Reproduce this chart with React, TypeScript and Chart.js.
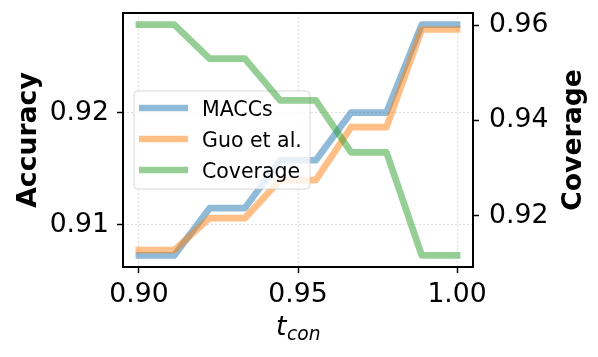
import React, { useEffect, useRef } from "react";
import { Chart, registerables } from "chart.js";

Chart.register(...registerables);

// ---- data ----
const tCon = [0.9, 0.9111, 0.9222, 0.9333, 0.9444, 0.9556, 0.9667, 0.9778, 0.9889, 1.0];
const maccsAcc = [0.90726, 0.90726, 0.91148, 0.91148, 0.91575, 0.91575, 0.92, 0.92, 0.92785, 0.92785];
const guoAcc = [0.90773, 0.90773, 0.91059, 0.91059, 0.91398, 0.91398, 0.9187, 0.9187, 0.92741, 0.92741];
const coverage = [0.9602, 0.9602, 0.95302, 0.95302, 0.94423, 0.94423, 0.9333, 0.9333, 0.91162, 0.91162];
const seriesLabels = ["MACCs", "Guo et al.", "Coverage"];
const xTicks = [0.9, 0.95, 1.0];
const accTicks = [0.91, 0.92];
const covTicks = [0.92, 0.94, 0.96];

const FONT = '"DejaVu Sans", "Liberation Sans", sans-serif';
const COLORS = ["rgba(31,119,180,0.5)", "rgba(255,127,14,0.5)", "rgba(44,160,44,0.5)"];
const LW = 6.7;

function padRange(vals: number[], frac = 0.05) {
  const lo = Math.min(...vals);
  const hi = Math.max(...vals);
  const m = (hi - lo) * frac;
  return { min: lo - m, max: hi + m };
}

const overlayPlugin = {
  id: "overlay",
  beforeDatasetDraw(chart: any, args: any) {
    if (args.index !== 2) return;
    // legend (belongs to the accuracy axes, drawn under the coverage line)
    const ctx = chart.ctx as CanvasRenderingContext2D;
    const ca = chart.chartArea;
    const bx = ca.left + 11;
    const by = ca.top + 78;
    const bw = 176;
    const bh = 98;
    ctx.save();
    ctx.beginPath();
    const r = 4;
    ctx.moveTo(bx + r, by);
    ctx.lineTo(bx + bw - r, by);
    ctx.arcTo(bx + bw, by, bx + bw, by + r, r);
    ctx.lineTo(bx + bw, by + bh - r);
    ctx.arcTo(bx + bw, by + bh, bx + bw - r, by + bh, r);
    ctx.lineTo(bx + r, by + bh);
    ctx.arcTo(bx, by + bh, bx, by + bh - r, r);
    ctx.lineTo(bx, by + r);
    ctx.arcTo(bx, by, bx + r, by, r);
    ctx.closePath();
    ctx.fillStyle = "rgba(255,255,255,0.8)";
    ctx.fill();
    ctx.strokeStyle = "rgba(204,204,204,0.8)";
    ctx.lineWidth = 1;
    ctx.stroke();
    ctx.font = `20.5px ${FONT}`;
    ctx.textAlign = "left";
    ctx.textBaseline = "alphabetic";
    chart.data.datasets.forEach((ds: any, i: number) => {
      const y = by + 17 + i * 31;
      ctx.strokeStyle = ds.borderColor;
      ctx.lineWidth = LW;
      ctx.lineCap = "butt";
      ctx.beginPath();
      ctx.moveTo(bx + 5, y);
      ctx.lineTo(bx + 54, y);
      ctx.stroke();
      ctx.fillStyle = "black";
      ctx.fillText(ds.label, bx + 68, y + 7.5);
    });
    ctx.restore();
  },
  afterDatasetsDraw(chart: any) {
    const ctx = chart.ctx as CanvasRenderingContext2D;
    const ca = chart.chartArea;
    ctx.save();
    ctx.strokeStyle = "black";
    ctx.lineWidth = 2;
    ctx.strokeRect(ca.left, ca.top, ca.right - ca.left, ca.bottom - ca.top);
    ctx.restore();
  },
  afterDraw(chart: any) {
    const ctx = chart.ctx as CanvasRenderingContext2D;
    const ca = chart.chartArea;
    const midY = (ca.top + ca.bottom) / 2;
    ctx.save();
    ctx.fillStyle = "black";
    ctx.textAlign = "center";
    ctx.textBaseline = "alphabetic";
    ctx.font = `bold 26.67px ${FONT}`;
    ctx.save();
    ctx.translate(36, midY);
    ctx.rotate(-Math.PI / 2);
    ctx.fillText("Accuracy", 0, 0);
    ctx.restore();
    ctx.save();
    ctx.translate(581, midY);
    ctx.rotate(-Math.PI / 2);
    ctx.fillText("Coverage", 0, 0);
    ctx.restore();
    // x label: t_con (math italic with subscript)
    const mainFont = `oblique 26.67px ${FONT}`;
    const subFont = `oblique 18.67px ${FONT}`;
    ctx.textAlign = "left";
    ctx.font = mainFont;
    const wT = ctx.measureText("t").width;
    ctx.font = subFont;
    const wSub = ctx.measureText("con").width;
    const cx = (ca.left + ca.right) / 2;
    const x0 = cx - (wT + wSub) / 2;
    ctx.font = mainFont;
    ctx.fillText("t", x0, 335);
    ctx.font = subFont;
    ctx.fillText("con", x0 + wT + 0.5, 340);
    ctx.restore();
  },
};

export default function App() {
  const canvasRef = useRef<HTMLCanvasElement | null>(null);

  useEffect(() => {
    const canvas = canvasRef.current;
    if (!canvas) return;
    const xr = padRange(tCon);
    const yr = padRange([...maccsAcc, ...guoAcc]);
    const y1r = padRange(coverage);
    const gridColor = "rgba(200,200,200,0.6)";
    const tickFont = { family: FONT, size: 26.67 };

    const mk = (ys: number[]) => tCon.map((x, i) => ({ x, y: ys[i] }));
    const line = (i: number, ys: number[], axis: string, order: number) => ({
      label: seriesLabels[i],
      data: mk(ys),
      yAxisID: axis,
      borderColor: COLORS[i],
      borderWidth: LW,
      pointRadius: 0,
      fill: false,
      tension: 0,
      borderJoinStyle: "round",
      borderCapStyle: "square",
      order,
    });
    const tickGrid = {
      lineWidth: 1,
      drawTicks: true,
      tickLength: 6,
      tickColor: "black",
      tickWidth: 1.5,
    };

    const chart = new Chart(canvas, {
      type: "line",
      data: {
        datasets: [line(0, maccsAcc, "y", 3), line(1, guoAcc, "y", 2), line(2, coverage, "y1", 1)],
      },
      options: {
        animation: false,
        responsive: false,
        maintainAspectRatio: false,
        devicePixelRatio: 1,
        layout: { padding: { top: 13, left: 0, right: 0, bottom: 0 } },
        plugins: {
          legend: { display: false },
          tooltip: { enabled: false },
        },
        scales: {
          x: {
            type: "linear",
            position: "bottom",
            min: xr.min,
            max: xr.max,
            afterBuildTicks: (s: any) => {
              s.ticks = xTicks.map((v) => ({ value: v }));
            },
            afterFit: (s: any) => {
              s.height = 90;
              s.paddingLeft = 0;
              s.paddingRight = 0;
            },
            ticks: {
              callback: (v: any) => Number(v).toFixed(2),
              font: tickFont,
              color: "black",
              padding: 6,
              maxRotation: 0,
              autoSkip: false,
            },
            grid: { ...tickGrid, color: gridColor },
            border: { display: false, dash: [2, 2] },
          },
          y: {
            type: "linear",
            position: "left",
            min: yr.min,
            max: yr.max,
            afterBuildTicks: (s: any) => {
              s.ticks = accTicks.map((v) => ({ value: v }));
            },
            afterFit: (s: any) => {
              s.width = 123;
              s.paddingTop = 0;
              s.paddingBottom = 0;
            },
            ticks: {
              callback: (v: any) => Number(v).toFixed(2),
              font: tickFont,
              color: "black",
              padding: 8,
              autoSkip: false,
            },
            grid: { ...tickGrid, color: gridColor },
            border: { display: false, dash: [2, 2] },
          },
          y1: {
            type: "linear",
            position: "right",
            min: y1r.min,
            max: y1r.max,
            afterBuildTicks: (s: any) => {
              s.ticks = covTicks.map((v) => ({ value: v }));
            },
            afterFit: (s: any) => {
              s.width = 125;
              s.paddingTop = 0;
              s.paddingBottom = 0;
            },
            ticks: {
              callback: (v: any) => Number(v).toFixed(2),
              font: tickFont,
              color: "black",
              padding: 10,
              autoSkip: false,
            },
            grid: { ...tickGrid, drawOnChartArea: false },
            border: { display: false },
          },
        },
      },
      plugins: [overlayPlugin],
    } as any);

    return () => {
      chart.destroy();
    };
  }, []);

  return (
    <div style={{ position: "fixed", left: 0, top: 0, width: 598, height: 357, background: "white" }}>
      <canvas ref={canvasRef} width={598} height={357} style={{ width: 598, height: 357, display: "block" }} />
    </div>
  );
}
